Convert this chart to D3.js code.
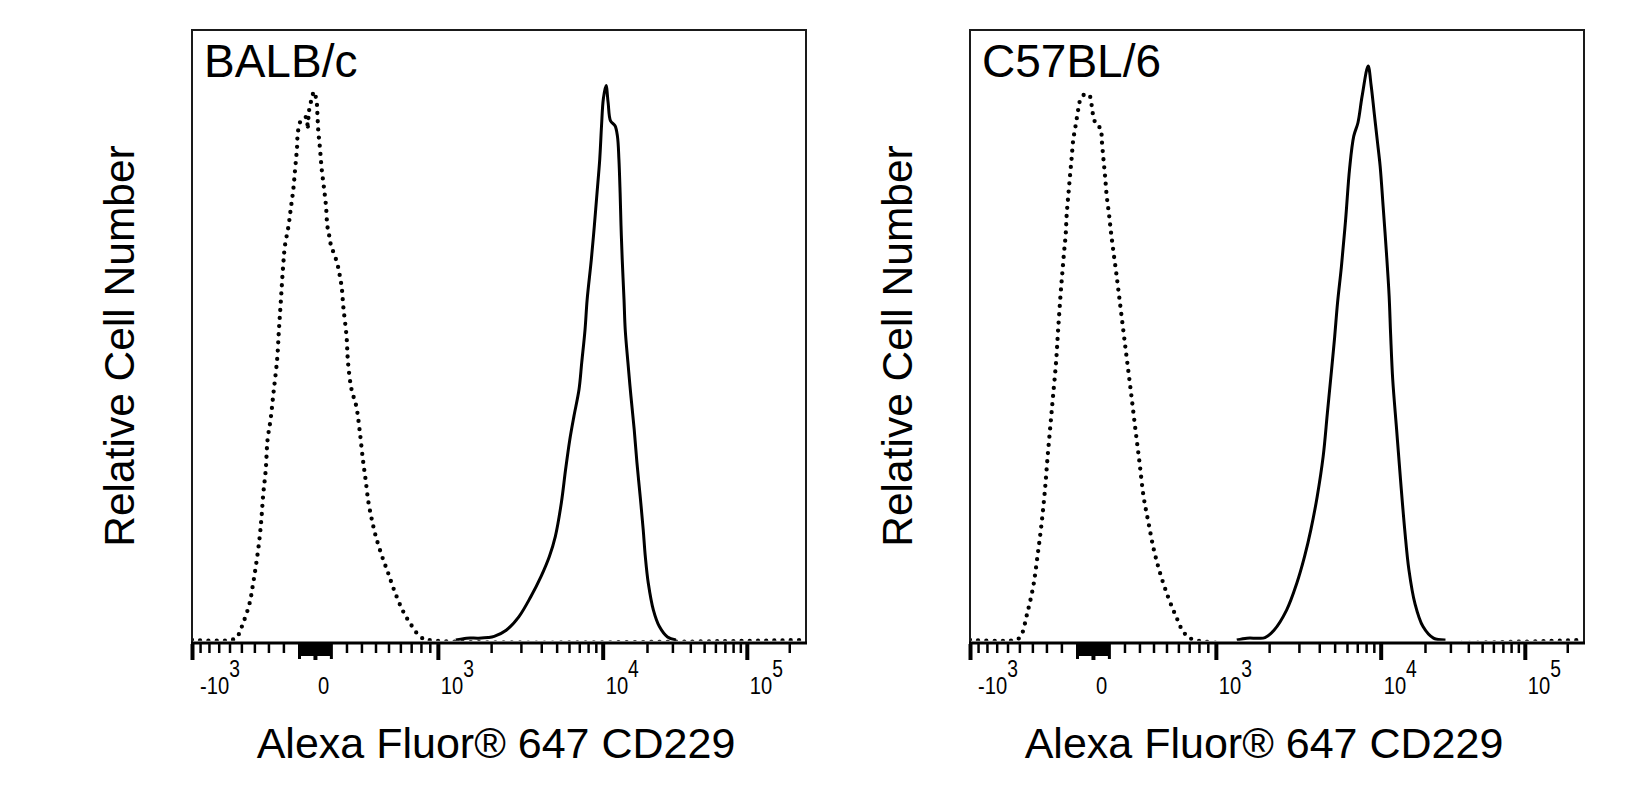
<!DOCTYPE html>
<html>
<head>
<meta charset="utf-8">
<script src="https://cdn.jsdelivr.net/npm/d3@7"></script>
<style>
  html, body { margin: 0; padding: 0; background: #fff; }
  svg text { font-family: "Liberation Sans", Arial, Helvetica, sans-serif; fill: #000; }
</style>
</head>
<body>
<script>
'use strict';

// histogram traces: [display channel (0-1024, logicle), % of y-axis max]
const balbIsotype = [[0,0],[65,0],[75,0.5],[85,2.7],[96,6.0],[102,9.3],[108,13.1],[113,17.0],[116,20.2],
  [119,24.1],[123,27.9],[126,32.8],[131,36.1],[136,40.6],[142,46.0],[145,50.9],[148,55.3],[152,61.3],
  [155,64.6],[161,67.9],[165,70.9],[169,73.9],[172,77.2],[175,80.5],[177,83.5],[183,85.4],[191,85.7],
  [192.6,83.7],[194.3,85.8],[195.6,87.0],[199.6,88.7],[203.5,89.9],[208,88.1],[209,86.5],[210.6,83.5],
  [213.5,80.5],[216.3,77.2],[220,74.2],[223.5,71.1],[225.7,67.9],[229,66.2],[232,64.6],[238.5,62.9],
  [244,61.0],[247,59.4],[249.7,57.8],[252.3,54.7],[257.7,49.8],[260.2,45.5],[266,41.1],[274,38.3],
  [279.4,34.5],[285,29.6],[289.5,26.3],[294.4,22.5],[300,19.7],[306.5,17.0],[317,13.7],[327,11.0],
  [337,8.2],[351,4.9],[364,2.7],[381,0.5],[395,0],[1024,0]];

const balbStained = [[440,0],[458,0.3],[478,0.3],[494,0.4],[504,0.6],[524,1.6],[545,3.8],[565,7.1],
  [582,10.4],[596,13.7],[606,17.0],[616,22.5],[623,27.9],[630,32.8],[637,36.7],[645.5,41.1],[650,45.5],
  [655.5,50.9],[659,55.8],[666,62.4],[671,67.9],[675.5,73.3],[680,78.8],[683,84.3],[686,88.7],[690.5,90.9],
  [694,88.1],[698,85.1],[705.5,84.3],[709.5,82.6],[712,78.8],[714,73.3],[715.5,67.9],[717.5,62.4],
  [720.5,55.8],[722.5,50.9],[727,45.5],[732,40.0],[737.5,34.5],[742,29.1],[747.5,23.5],[752.5,18.1],
  [756,13.7],[761,9.3],[769.5,4.9],[779.5,2.2],[793,0.5],[807,0]];

const b6Isotype = [[0,0],[75,0],[84,0.5],[95.5,4.4],[105.5,8.8],[112.5,13.7],[119.5,19.2],[125,24.6],
  [129.5,30.1],[134.5,35.6],[138.5,40.0],[143.5,45.5],[147,50.9],[151.5,57.2],[154,60.2],[156.8,63.5],
  [159.6,66.5],[161.3,69.8],[163.9,72.8],[166.8,76.1],[169.6,79.1],[172.3,82.1],[175.1,83.7],[177.9,85.4],
  [180.6,87.0],[183.5,88.4],[191.8,89.5],[199,89.3],[203,87.6],[205.6,85.9],[211.3,84.3],[218,83.9],
  [219.6,82.1],[222.3,79.1],[225.2,76.1],[228,72.8],[231.8,69.8],[235.2,66.8],[239,63.8],[243.5,60.5],
  [247.3,57.5],[255.5,50.9],[262.3,45.5],[269.2,40.0],[275.9,34.5],[282.7,29.1],[289.5,23.5],[297.7,19.2],
  [306.6,14.8],[316.9,11.0],[330.2,7.1],[343.9,3.8],[357.6,1.1],[374.6,0],[1024,0]];

const b6Stained = [[445,0],[462,0.3],[480,0.3],[492,0.4],[507,1.6],[528,4.9],[545,9.3],[558,13.7],
  [568.5,18.1],[579,23.5],[589,30.1],[596,37.2],[603,44.3],[608,49.5],[613,55.3],[619.5,61.3],[626.5,69.0],
  [633,77.2],[640,82.6],[647,84.8],[654,89.2],[664,94.1],[669,90.9],[674,86.5],[679,82.1],[684,77.7],
  [689,71.1],[694.5,63.5],[699,56.4],[701.5,50.1],[705,42.7],[711.5,34.5],[718,26.3],[725,18.1],
  [732,11.5],[742,6.0],[755.5,2.2],[773,0.3],[793,0]];

const panelNames = ["BALB/c", "C57BL/6"];
const xTitle = "Alexa Fluor® 647 CD229";
const yTitle = "Relative Cell Number";

// labelled ticks (fluorescence units)
const majorTicks = [-1000, 0, 1000, 10000, 100000];
const majorBase = ["-10", "0", "10", "10", "10"];
const majorExp = ["3", "", "3", "4", "5"];

// logicle (biexponential) display transform
const T = 262144, M = 4.38, W = 0.877, CH = 1024;

function solveP(w) {
  let lo = 1.0001, hi = 20;
  for (let i = 0; i < 80; i++) {
    let mid = (lo + hi) / 2;
    if (2 * mid * Math.log10(mid) / (mid + 1) < w) lo = mid; else hi = mid;
  }
  return (lo + hi) / 2;
}
const p = solveP(W);

// display decades -> data value
function S(yv) {
  if (yv < W) return -S(2 * W - yv);
  let u = yv - W;
  return T * Math.pow(10, -(M - W)) * (Math.pow(10, u) - p * p * Math.pow(10, -u / p) + p * p - 1);
}

// data value -> display channel
function toChannel(v) {
  let lo = -1, hi = M + 1;
  for (let i = 0; i < 80; i++) {
    let mid = (lo + hi) / 2;
    if (S(mid) < v) lo = mid; else hi = mid;
  }
  return (lo + hi) / 2 / M * CH;
}

// minor ticks
let zeroTicks = [], minorTicks = [], midTicks = [-100, 100];
for (let k = 1; k <= 9; k++) { zeroTicks.push(-10 * k, 10 * k); }
for (let k = 2; k <= 9; k++) {
  minorTicks.push(-100 * k, 100 * k, 1000 * k, 10000 * k);
}
minorTicks.push(200000);

const svgW = 1652, svgH = 797;
const panelW = 614, plotTop = 30, plotBase = 640, axisY = 643;
const panels = [
  { left: 192, titleX: 304, name: panelNames[0], iso: balbIsotype, stain: balbStained },
  { left: 970, titleX: 294, name: panelNames[1], iso: b6Isotype, stain: b6Stained }
];

const svg = d3.select('body').append('svg')
  .attr('width', svgW)
  .attr('height', svgH);

const yScale = d3.scaleLinear().domain([0, 100]).range([plotBase, plotTop]);

panels.forEach((pn, i) => {
  const xScale = d3.scaleLinear().domain([0, CH]).range([pn.left, pn.left + panelW]);
  const g = svg.append('g');

  // clip so that the zero line sits half under the axis
  const clipId = 'clip' + i;
  svg.append('clipPath').attr('id', clipId)
    .append('rect')
    .attr('x', pn.left).attr('y', plotTop)
    .attr('width', panelW).attr('height', plotBase + 0.8 - plotTop);

  const line = d3.line()
    .x(d => xScale(d[0]))
    .y(d => yScale(d[1]))
    .curve(d3.curveCatmullRom.alpha(0.5));

  g.append('path')
    .datum(pn.iso)
    .attr('clip-path', 'url(#' + clipId + ')')
    .attr('fill', 'none')
    .attr('stroke', '#000')
    .attr('stroke-width', 4.3)
    .attr('stroke-linecap', 'round')
    .attr('stroke-dasharray', '0 8.2')
    .attr('d', line);

  g.append('path')
    .datum(pn.stain)
    .attr('clip-path', 'url(#' + clipId + ')')
    .attr('fill', 'none')
    .attr('stroke', '#000')
    .attr('stroke-width', 3)
    .attr('stroke-linejoin', 'round')
    .attr('d', line);

  // frame
  g.append('rect')
    .attr('x', pn.left).attr('y', plotTop)
    .attr('width', panelW).attr('height', axisY - plotTop)
    .attr('fill', 'none')
    .attr('stroke', '#1a1a1a')
    .attr('stroke-width', 2);
  g.append('line')
    .attr('x1', pn.left - 1).attr('x2', pn.left + panelW + 1)
    .attr('y1', axisY).attr('y2', axisY)
    .attr('stroke', '#000').attr('stroke-width', 3);

  // ticks
  function tickAxis(vals, size, sw) {
    const ax = g.append('g')
      .attr('transform', 'translate(0,' + (axisY + 1) + ')')
      .call(d3.axisBottom(xScale).tickValues(vals.map(toChannel)).tickSize(size).tickFormat(''));
    ax.select('.domain').remove();
    ax.selectAll('.tick line').attr('stroke', '#000').attr('stroke-width', sw);
  }
  tickAxis(zeroTicks, 12, 2.6);
  tickAxis(minorTicks, 9, 2.5);
  tickAxis(midTicks, 15, 3);
  tickAxis(majorTicks, 16, 4);

  // tick labels (narrow face, as in the original)
  majorTicks.forEach((v, j) => {
    const tx = Math.max(xScale(toChannel(v)) + 3, pn.left + 8);
    const t = g.append('text')
      .attr('transform', 'translate(' + tx + ',694)scale(0.84,1)')
      .style('font-size', '24px');
    t.append('tspan').text(majorBase[j]);
    if (majorExp[j]) {
      t.append('tspan').attr('dy', -17).style('font-size', '23px').text(majorExp[j]);
    }
  });

  // panel label
  g.append('text')
    .attr('x', pn.left + 12)
    .attr('y', 77)
    .style('font-size', '46px')
    .text(pn.name);

  // axis titles
  g.append('text')
    .attr('x', pn.left + pn.titleX)
    .attr('y', 758)
    .attr('text-anchor', 'middle')
    .style('font-size', '43px')
    .text(xTitle);

  g.append('text')
    .attr('transform', 'translate(' + (pn.left - 58) + ',346)rotate(-90)')
    .attr('text-anchor', 'middle')
    .style('font-size', '42.5px')
    .text(yTitle);
});
</script>
</body>
</html>
